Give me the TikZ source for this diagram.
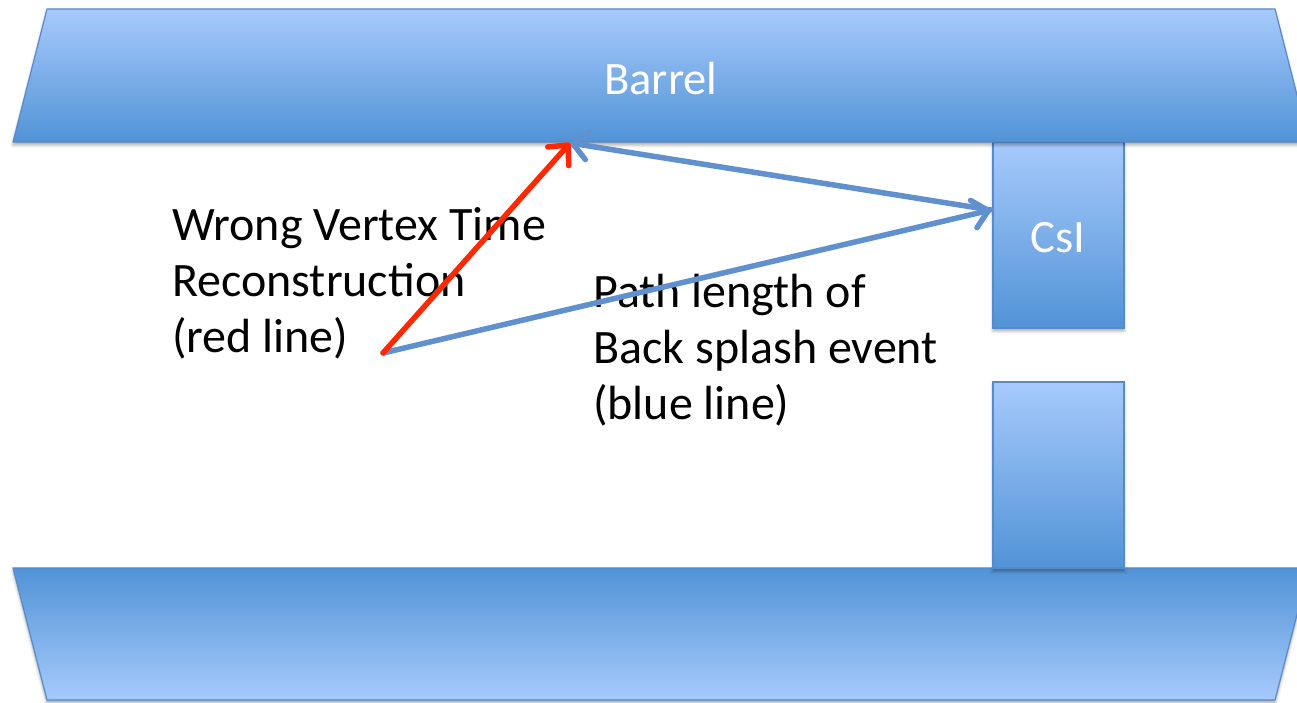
\documentclass[tikz,border=0pt]{standalone}
\usepackage{fontspec}
\setmainfont{Carlito}
\usetikzlibrary{arrows.meta,shadows.blur}

\definecolor{slidelight}{RGB}{167,202,252}
\definecolor{slidedark}{RGB}{81,147,214}
\definecolor{slideedge}{RGB}{88,138,200}
\definecolor{beamblue}{RGB}{96,145,206}
\definecolor{beamred}{RGB}{255,40,0}

\tikzset{
  solid part/.style={draw=slideedge, line width=1.2pt, line join=miter,
    blur shadow={shadow xshift=0pt, shadow yshift=-3pt, shadow blur steps=6,
                 shadow blur radius=3pt, shadow opacity=35}},
  fade down/.style={solid part, top color=slidelight, bottom color=slidedark},
  fade up/.style={solid part, top color=slidedark, bottom color=slidelight},
  barb/.style={-{Straight Barb[length=15pt,width=28pt,round]}, line width=5.5pt, line cap=round},
  redray/.style={barb, draw=beamred},
  blueray/.style={barb, draw=beamblue},
  label/.style={inner sep=0pt, font=\fontsize{48}{56}\selectfont},
  whitelabel/.style={inner sep=0pt, text=white, font=\fontsize{46.5}{56}\selectfont}
}

\begin{document}
\begin{tikzpicture}[x=1pt,y=1pt]
  \useasboundingbox (0,0) rectangle (1297,703);
  \clip (0,0) rectangle (1297,703);

  % crystal blocks (the upper one sits under the barrel edge)
  \path[fade down] (993,561) rectangle (1124,375);
  \path[fade up] (13,135) -- (1309,135) -- (1275,3) -- (47,3) -- cycle;
  \path[fade down] (993,321) rectangle (1124,135);
  \path[fade down] (47,694) -- (1275,694) -- (1309,561) -- (13,561) -- cycle;

  \node[whitelabel, anchor=base] (barrel) at (661,608) {Barrel};
  \node[whitelabel, anchor=base] (csi) at (1058,450) {CsI};

  % interaction points
  \coordinate (vertex) at (383,350);
  \coordinate (hit) at (570,560);
  \coordinate (crystal) at (991,493);

  % descriptions
  \node[label, anchor=base west] (wrong) at (172,462)
    {\begin{tabular}[t]{@{}l@{}}Wrong Vertex Time\\Reconstruction\\(red line)\end{tabular}};
  \node[label, anchor=base west] (path) at (593,395)
    {\begin{tabular}[t]{@{}l@{}}Path length of\\Back splash event\\(blue line)\end{tabular}};

  % rays
  \draw[blueray] (vertex) -- (crystal);
  \draw[blueray] (crystal) -- (hit);
  \draw[redray] (vertex) -- (hit);
\end{tikzpicture}
\end{document}
